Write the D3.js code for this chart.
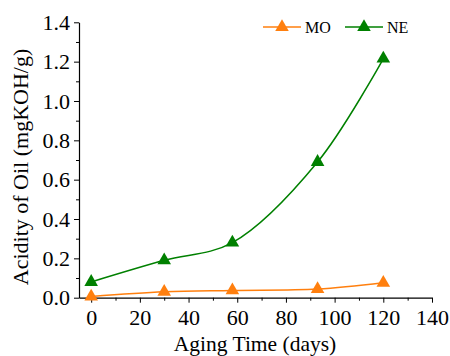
<!DOCTYPE html>
<html>
<head>
<meta charset="utf-8">
<script src="https://cdn.jsdelivr.net/npm/d3@7/dist/d3.min.js"></script>
<style>
  html, body { margin: 0; padding: 0; background: #fff; }
  svg text { font-family: "Liberation Serif", "Times New Roman", serif; fill: #000; }
</style>
</head>
<body>
<svg id="chart" width="450" height="356"></svg>
<script>
const days = [0, 30, 58, 93, 120];
const moAcidity = [0.006, 0.03, 0.037, 0.044, 0.076];
const neAcidity = [0.08, 0.19, 0.28, 0.69, 1.215];
const xTicks = [0, 20, 40, 60, 80, 100, 120, 140];
const yTicks = [0.0, 0.2, 0.4, 0.6, 0.8, 1.0, 1.2, 1.4];
const seriesNames = ['MO', 'NE'];
const seriesColors = ['#ff7f0e', '#008000'];

const svg = d3.select('#chart');
const x = d3.scaleLinear().domain([-5, 140]).range([79, 432]);
const y = d3.scaleLinear().domain([0, 1.4]).range([297.7, 22.3]);

// minor ticks first so the major ones sit on top
const xMinor = d3.range(10, 140, 20);
const yMinor = d3.range(0.1, 1.4, 0.2);

svg.append('g')
    .attr('transform', 'translate(0,' + y(0) + ')')
    .call(d3.axisBottom(x).tickValues(xMinor).tickSize(3).tickFormat(''))
    .call(g => g.select('.domain').remove());
svg.append('g')
    .attr('transform', 'translate(' + x(-5) + ',0)')
    .call(d3.axisLeft(y).tickValues(yMinor).tickSize(3).tickFormat(''))
    .call(g => g.select('.domain').remove());

const xAxis = svg.append('g')
    .attr('transform', 'translate(0,' + y(0) + ')')
    .call(d3.axisBottom(x).tickValues(xTicks).tickSize(5).tickSizeOuter(0).tickPadding(7));
xAxis.selectAll('text').attr('font-size', 22).style('font-family', '"Liberation Serif", serif');

const yAxis = svg.append('g')
    .attr('transform', 'translate(' + x(-5) + ',0)')
    .call(d3.axisLeft(y).tickValues(yTicks).tickSize(5).tickSizeOuter(0).tickPadding(4).tickFormat(d3.format('.1f')));
yAxis.selectAll('text').attr('font-size', 22).style('font-family', '"Liberation Serif", serif');

svg.selectAll('.domain').attr('stroke', '#000').attr('stroke-width', 1.2);
svg.selectAll('.tick line').attr('stroke', '#000');

// axis titles
svg.append('text')
    .attr('x', 255)
    .attr('y', 351)
    .attr('text-anchor', 'middle')
    .attr('font-size', 21.5)
    .text('Aging Time (days)');

svg.append('text')
    .attr('transform', 'translate(28,167) rotate(-90)')
    .attr('text-anchor', 'middle')
    .attr('font-size', 22)
    .text('Acidity of Oil (mgKOH/g)');

// series
const series = [moAcidity, neAcidity];
const line = d3.line()
    .x((d, i) => x(days[i]))
    .y(d => y(d))
    .curve(d3.curveCatmullRom.alpha(0.5));
const tri = d3.symbol(d3.symbolTriangle).size(80);

series.forEach((vals, s) => {
  svg.append('path')
      .datum(vals)
      .attr('fill', 'none')
      .attr('stroke', seriesColors[s])
      .attr('stroke-width', 1.5)
      .attr('d', line);
  svg.selectAll('.pt' + s)
      .data(vals)
      .enter().append('path')
      .attr('class', 'pt' + s)
      .attr('d', tri)
      .attr('fill', seriesColors[s])
      .attr('transform', (d, i) => 'translate(' + x(days[i]) + ',' + y(d) + ')');
});

// legend
const legend = svg.append('g');
const legendX = [263, 345];
seriesNames.forEach((name, s) => {
  const lg = legend.append('g').attr('transform', 'translate(' + legendX[s] + ',27)');
  lg.append('line').attr('x1', 0).attr('x2', 38).attr('stroke', seriesColors[s]).attr('stroke-width', 1.5);
  lg.append('path').attr('d', tri).attr('fill', seriesColors[s]).attr('transform', 'translate(19,0)');
  lg.append('text').attr('x', 42).attr('y', 6).attr('font-size', 16).text(name);
});
</script>
</body>
</html>
